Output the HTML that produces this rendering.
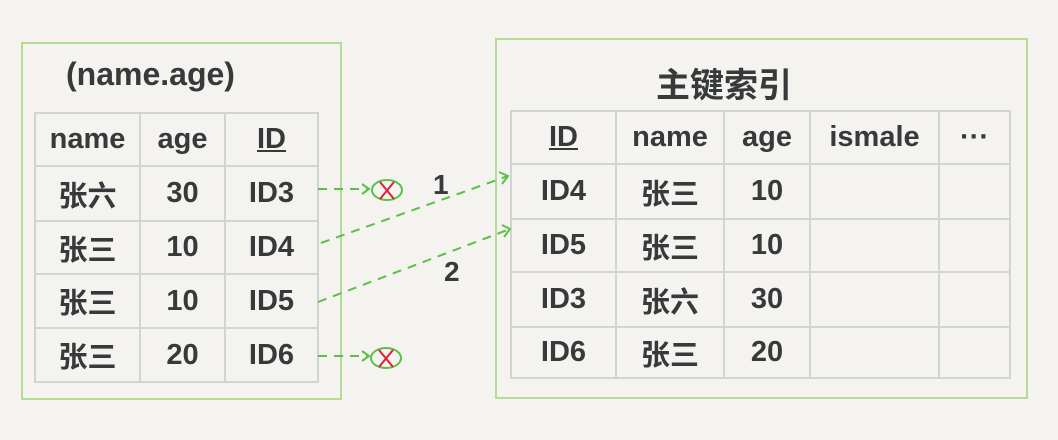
<!DOCTYPE html>
<html><head><meta charset="utf-8"><style>
body{margin:0;width:1058px;height:440px;background:#f4f3f0;position:relative;overflow:hidden;font-family:"Liberation Sans","Noto Sans CJK SC",sans-serif;color:#333}
.box{position:absolute;border:2px solid #b5dc95}
table{position:absolute;border-collapse:collapse}
td{border:2px solid #d3d3d3;text-align:center;font-size:29px;padding:0;color:#363a3a;font-weight:bold}
.t{position:absolute;font-size:32px;color:#363a3a}
</style></head><body>
<div class="box" style="left:21px;top:42px;width:317px;height:354px"></div>
<div class="box" style="left:495px;top:38px;width:529px;height:357px"></div>
<div class="t" style="left:66px;top:56px;font-weight:bold">(name.age)</div>
<div class="t" style="left:656px;top:58px;font-size:34px;font-weight:bold">主键索引</div>
<table style="left:34px;top:112px">
<tr style="height:53px"><td style="width:103px">name</td><td style="width:83px">age</td><td style="width:91px"><u>ID</u></td></tr>
<tr style="height:55px"><td>张六</td><td>30</td><td>ID3</td></tr>
<tr style="height:53px"><td>张三</td><td>10</td><td>ID4</td></tr>
<tr style="height:54px"><td>张三</td><td>10</td><td>ID5</td></tr>
<tr style="height:54px"><td>张三</td><td>20</td><td>ID6</td></tr>
</table>
<table style="left:510px;top:110px">
<tr style="height:53px"><td style="width:103px"><u>ID</u></td><td style="width:106px">name</td><td style="width:84px">age</td><td style="width:127px">ismale</td><td style="width:69px">···</td></tr>
<tr style="height:55px"><td>ID4</td><td>张三</td><td>10</td><td></td><td></td></tr>
<tr style="height:53px"><td>ID5</td><td>张三</td><td>10</td><td></td><td></td></tr>
<tr style="height:55px"><td>ID3</td><td>张六</td><td>30</td><td></td><td></td></tr>
<tr style="height:51px"><td>ID6</td><td>张三</td><td>20</td><td></td><td></td></tr>
</table>
<svg width="1058" height="440" style="position:absolute;left:0;top:0">
<g stroke="#5cbf48" stroke-width="2" fill="none" stroke-dasharray="9,7">
<line x1="318" y1="189" x2="368" y2="189"/>
<line x1="318" y1="356" x2="368" y2="356"/>
<line x1="321" y1="243" x2="508" y2="176"/>
<line x1="318" y1="302" x2="510" y2="229"/>
</g>
<g stroke="#5cbf48" stroke-width="2" fill="none">
<polyline points="362,184 369,189 362,194"/>
<polyline points="362,351 369,356 362,361"/>
<polyline points="499,172 508,176 502,184"/>
<polyline points="502,225 510,229 504,237"/>
<ellipse cx="387" cy="190" rx="15" ry="10"/>
<ellipse cx="386" cy="358" rx="15" ry="10"/>
</g>
<g stroke="#e0203a" stroke-width="2">
<line x1="380" y1="182" x2="394" y2="199"/><line x1="394" y1="182" x2="380" y2="199"/>
<line x1="379" y1="350" x2="393" y2="367"/><line x1="393" y1="350" x2="379" y2="367"/>
</g>
<text x="433" y="194" font-size="28" font-weight="bold" fill="#363a3a" font-family="Liberation Sans">1</text>
<text x="444" y="281" font-size="28" font-weight="bold" fill="#363a3a" font-family="Liberation Sans">2</text>
</svg>
</body></html>
